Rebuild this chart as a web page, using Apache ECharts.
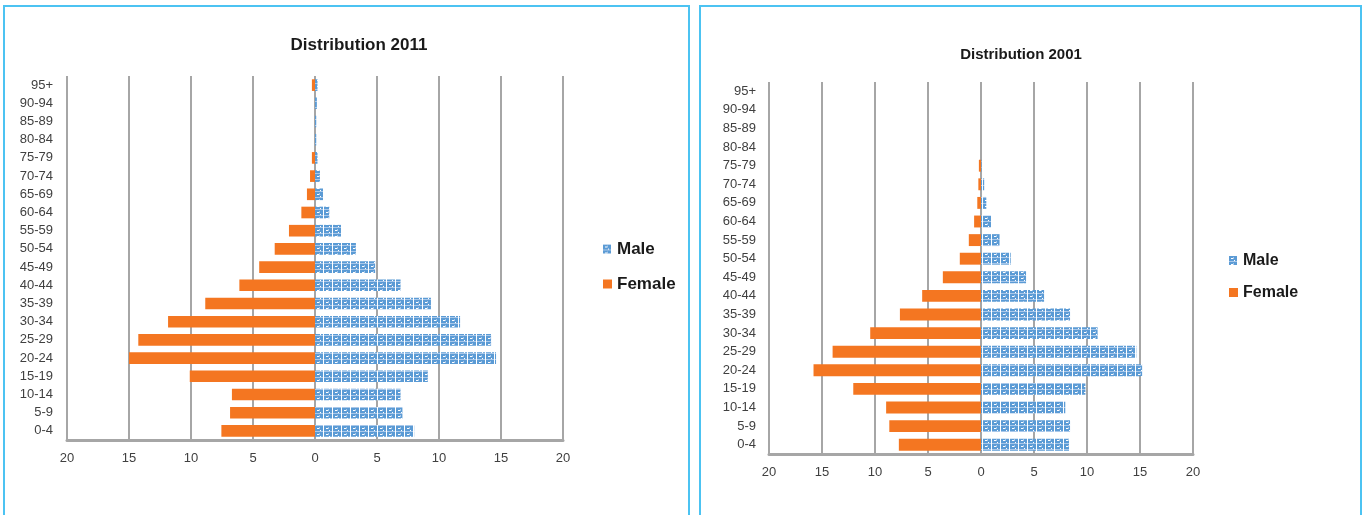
<!DOCTYPE html>
<html>
<head>
<meta charset="utf-8">
<script src="https://cdn.jsdelivr.net/npm/echarts@6/dist/echarts.min.js"></script>
<style>
  html, body { margin: 0; padding: 0; background: #fff; width: 1362px; height: 515px; overflow: hidden; }
  .c { position: absolute; top: 0; height: 515px; }
  .b { position: absolute; border: 2px solid #4cc3f2; border-bottom: none; pointer-events: none; box-sizing: border-box; }
</style>
</head>
<body>
<div class="b" style="left:3px; top:5px; width:687px; height:520px;"></div>
<div class="b" style="left:699px; top:5px; width:663px; height:520px;"></div>
<div id="c1" class="c" style="left:0; width:695px;"></div>
<div id="c2" class="c" style="left:695px; width:667px;"></div>
<script>
// ---- data ----
const ageGroups = ['0-4','5-9','10-14','15-19','20-24','25-29','30-34','35-39','40-44','45-49','50-54','55-59','60-64','65-69','70-74','75-79','80-84','85-89','90-94','95+'];
const ticks = [-20, -15, -10, -5, 0, 5, 10, 15, 20];

const male2011   = [8.0, 7.05, 6.9, 9.1, 14.6, 14.2, 11.7, 9.35, 6.9, 4.85, 3.3, 2.1, 1.15, 0.65, 0.4, 0.2, 0.1, 0.1, 0.15, 0.2];
const female2011 = [7.55, 6.85, 6.7, 10.1, 15.0, 14.25, 11.85, 8.85, 6.1, 4.5, 3.25, 2.1, 1.1, 0.65, 0.4, 0.25, 0, 0, 0, 0.25];

const male2001   = [8.3, 8.4, 7.95, 9.85, 15.2, 14.65, 11.0, 8.4, 5.95, 4.25, 2.8, 1.75, 0.95, 0.5, 0.3, 0.05, 0, 0, 0, 0];
const female2001 = [7.75, 8.65, 8.95, 12.05, 15.8, 14.0, 10.45, 7.65, 5.55, 3.6, 2.0, 1.15, 0.65, 0.35, 0.25, 0.2, 0, 0, 0, 0];

const title2011 = 'Distribution 2011';
const title2001 = 'Distribution 2001';

// ---- pattern for Male ----
function makePattern() {
  const c = document.createElement('canvas');
  c.width = 9; c.height = 6;
  const g = c.getContext('2d');
  g.fillStyle = '#5b9bd5';
  g.fillRect(0, 0, 9, 6);
  g.fillStyle = '#ffffff';
  g.fillRect(8, 0, 1, 6);
  g.fillRect(2, 2, 2, 1);
  g.fillRect(5, 4, 1, 1);
  g.fillStyle = '#a9c8ea';
  g.fillRect(0, 5, 8, 1);
  g.fillRect(4, 1, 1, 2);
  return c;
}
const malePattern = { image: makePattern(), repeat: 'repeat' };
const femaleColor = '#f47621';
const FONT = 'Liberation Sans';

function build(el, cfg) {
  const chart = echarts.init(el, null, { renderer: 'canvas' });
  chart.setOption({
    animation: false,
    textStyle: { fontFamily: FONT },
    title: {
      text: cfg.title,
      left: cfg.titleX,
      top: cfg.titleY,
      textAlign: 'center',
      textStyle: { fontFamily: FONT, fontSize: cfg.titleSize, fontWeight: 'bold', color: '#1a1a1a' }
    },
    legend: {
      data: ['Male', 'Female'],
      orient: 'vertical',
      left: cfg.legX,
      top: cfg.legY,
      padding: 0,
      itemWidth: 9,
      itemHeight: 9,
      itemGap: cfg.legGap,
      icon: 'rect',
      textStyle: { fontFamily: FONT, fontSize: cfg.legSize, fontWeight: 'bold', color: '#1a1a1a', lineHeight: cfg.legSize + 3 }
    },
    grid: { left: cfg.gl, top: cfg.gt, width: cfg.gw, height: cfg.gh },
    xAxis: {
      type: 'value',
      min: ticks[0],
      max: ticks[ticks.length - 1],
      interval: 5,
      axisLine: { show: true, lineStyle: { color: '#a6a6a6', width: 3 } },
      axisTick: { show: false },
      splitLine: { show: true, lineStyle: { color: '#a6a6a6', width: 2 } },
      axisLabel: {
        margin: 12,
        fontSize: 13,
        color: '#404040',
        fontFamily: FONT,
        formatter: v => String(Math.abs(v))
      }
    },
    yAxis: {
      type: 'category',
      data: ageGroups,
      axisLine: { show: false },
      axisTick: { show: false },
      splitLine: { show: false },
      axisLabel: { margin: cfg.ym, fontSize: 13, color: '#404040', fontFamily: FONT }
    },
    series: [
      {
        name: 'Male',
        type: 'bar',
        data: cfg.male,
        barWidth: '64%',
        barGap: '-100%',
        itemStyle: { color: malePattern }
      },
      {
        name: 'Female',
        type: 'bar',
        data: cfg.female.map(v => -v),
        barWidth: '64%',
        barGap: '-100%',
        itemStyle: { color: femaleColor }
      }
    ]
  });
}

build(document.getElementById('c1'), {
  title: title2011, titleX: 354, titleY: 32, titleSize: 17,
  legX: 603, legY: 239, legGap: 15, legSize: 17,
  gl: 67, gt: 76, gw: 496, gh: 364, ym: 14,
  male: male2011, female: female2011
});
build(document.getElementById('c2'), {
  title: title2001, titleX: 321, titleY: 42, titleSize: 15,
  legX: 534, legY: 251, legGap: 13, legSize: 16,
  gl: 74, gt: 82, gw: 424, gh: 372, ym: 13,
  male: male2001, female: female2001
});
</script>
</body>
</html>
